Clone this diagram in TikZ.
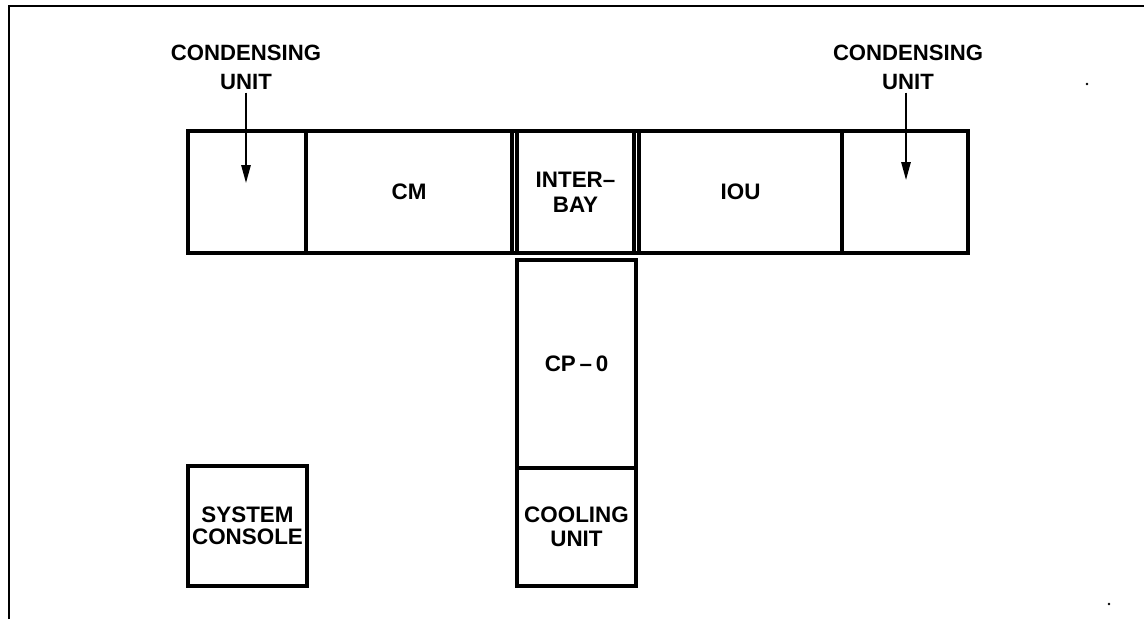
\documentclass[tikz,border=0pt]{standalone}
\usepackage{fontspec}
\setmainfont{Liberation Sans}
\usetikzlibrary{arrows.meta}
\begin{document}
\begin{tikzpicture}[x=0.75pt,y=-0.75pt,
  unitbox/.style={draw, line width=2.4pt, rectangle, inner sep=0pt, outer sep=0pt,
    font=\bfseries\fontsize{16.8}{19}\selectfont, align=center},
  lbl/.style={font=\bfseries\fontsize{16.6}{21.75}\selectfont, align=center, inner sep=0pt},
  arr/.style={line width=1.4pt, -{Triangle[length=13.5pt,width=7pt]}},
  thickline/.style={line width=2.4pt}
]
\useasboundingbox (0,0) rectangle (1144,619);
\draw[line width=1.3pt] (9,619) -- (9,6) -- (1144,6);

% top row
\node[unitbox, minimum width=118*0.75pt, minimum height=122*0.75pt] (lcond) at (247,192) {};
\node[unitbox, minimum width=206*0.75pt, minimum height=122*0.75pt] (cm) at (409,192) {CM};
\node[unitbox, minimum width=117*0.75pt, minimum height=122*0.75pt,
  font=\bfseries\fontsize{16.8}{19}\selectfont] (interbay) at (575.5,192) {INTER–\\BAY};
\node[unitbox, minimum width=203*0.75pt, minimum height=122*0.75pt] (iou) at (740.5,192) {IOU};
\node[unitbox, minimum width=126*0.75pt, minimum height=122*0.75pt] (rcond) at (905,192) {};
\draw[thickline] (cm.north east) -- (interbay.north west);
\draw[thickline] (cm.south east) -- (interbay.south west);
\draw[thickline] (interbay.north east) -- (iou.north west);
\draw[thickline] (interbay.south east) -- (iou.south west);

% stem
\node[unitbox, minimum width=119*0.75pt, minimum height=208*0.75pt] (cp0) at (576.5,364) {CP\,–\,0};
\node[unitbox, minimum width=119*0.75pt, minimum height=118*0.75pt,
  font=\bfseries\fontsize{16.8}{18}\selectfont] (cooling) at (576.5,527) {COOLING\\UNIT};

% console
\node[unitbox, minimum width=119*0.75pt, minimum height=120*0.75pt,
  font=\bfseries\fontsize{16.8}{16.5}\selectfont] (console) at (247.5,526) {SYSTEM\\CONSOLE};

% condensing unit labels and arrows
\node[lbl] (lcondlbl) at (246,67) {CONDENSING\\UNIT};
\node[lbl] (rcondlbl) at (908,67) {CONDENSING\\UNIT};
\coordinate (ltip) at (246,183);
\coordinate (rtip) at (906,180);
\draw[arr] (lcondlbl.south -| ltip) ++(0,3) -- (ltip);
\draw[arr] (rcondlbl.south -| rtip) ++(0,3) -- (rtip);

% specks
\fill (1087,84) circle[radius=1.1pt];
\fill (1109,604) circle[radius=1pt];
\end{tikzpicture}
\end{document}
